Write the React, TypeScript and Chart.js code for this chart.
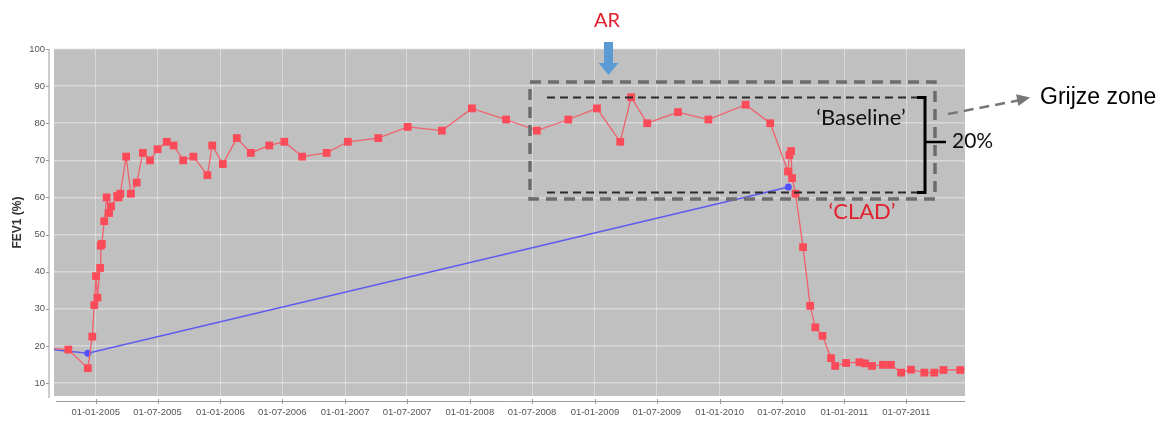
import React, { useEffect, useRef } from "react";
import { Chart, registerables } from "chart.js";

Chart.register(...registerables);

// ---- data ----
const redDates = [
  "2004-07-01", "2004-10-13", "2004-12-09", "2004-12-22", "2004-12-28", "2005-01-02", "2005-01-06",
  "2005-01-14", "2005-01-16", "2005-01-19", "2005-01-26", "2005-02-02", "2005-02-09", "2005-02-15",
  "2005-03-05", "2005-03-09", "2005-03-14", "2005-03-31", "2005-04-14", "2005-05-01", "2005-05-19",
  "2005-06-09", "2005-07-01", "2005-07-28", "2005-08-17", "2005-09-14", "2005-10-14", "2005-11-24",
  "2005-12-08", "2006-01-08", "2006-02-18", "2006-03-31", "2006-05-24", "2006-07-07", "2006-08-28",
  "2006-11-08", "2007-01-09", "2007-04-08", "2007-07-03", "2007-10-11", "2008-01-07", "2008-04-16",
  "2008-07-15", "2008-10-15", "2009-01-07", "2009-03-16", "2009-04-17", "2009-06-03", "2009-09-01",
  "2009-11-29", "2010-03-18", "2010-05-29", "2010-07-20", "2010-07-24", "2010-07-29", "2010-08-01",
  "2010-08-11", "2010-09-02", "2010-09-23", "2010-10-08", "2010-10-29", "2010-11-23", "2010-12-05",
  "2011-01-06", "2011-02-14", "2011-03-02", "2011-03-23", "2011-04-24", "2011-05-17", "2011-06-16",
  "2011-07-15", "2011-08-23", "2011-09-21", "2011-10-18", "2011-12-06", "2012-01-10",
];
const redValues = [
  19.6, 19, 14, 22.5, 31, 38.8, 33,
  41, 47, 47.5, 53.6, 60, 55.8, 57.6,
  60.4, 60, 61, 71, 61, 64, 72,
  70, 73, 75, 74, 70, 71, 66,
  74, 69, 76, 72, 74, 75, 71,
  72, 75, 76, 79, 78, 84, 81,
  78, 81, 84, 75, 87, 80, 83,
  81, 85, 80, 67, 71.4, 72.5, 65.2,
  61, 46.6, 30.8, 25, 22.7, 16.7, 14.6,
  15.4, 15.6, 15.3, 14.6, 14.9, 14.9, 12.8,
  13.6, 12.8, 12.8, 13.5, 13.5, 14,
];
const blueDates = ["2004-07-01", "2004-12-09", "2010-07-21"];
const blueValues = [19.6, 18, 62.8];

const xTickDates = [
  "2005-01-01", "2005-07-01", "2006-01-01", "2006-07-01", "2007-01-01", "2007-07-01", "2008-01-01",
  "2008-07-01", "2009-01-01", "2009-07-01", "2010-01-01", "2010-07-01", "2011-01-01", "2011-07-01",
];
const yTickValues = [10, 20, 30, 40, 50, 60, 70, 80, 90, 100];
const xMinDate = "2004-09-01";
const xMaxDate = "2011-12-20";
const yMin = 6.5;
const yMax = 100;

const t = (s: string) => Date.UTC(+s.slice(0, 4), +s.slice(5, 7) - 1, +s.slice(8, 10));
const pad2 = (n: number) => (n < 10 ? "0" + n : "" + n);
const fmt = (v: number) => {
  const d = new Date(v);
  return `${pad2(d.getUTCDate())}-${pad2(d.getUTCMonth() + 1)}-${d.getUTCFullYear()}`;
};

const decorPlugin = {
  id: "decor",
  beforeDraw(chart: any) {
    const { ctx, chartArea } = chart;
    ctx.save();
    ctx.fillStyle = "#c0c0c0";
    ctx.fillRect(chartArea.left, chartArea.top, chartArea.right - chartArea.left, chartArea.bottom - chartArea.top);
    ctx.restore();
  },
  afterDraw(chart: any) {
    const { ctx, chartArea } = chart;
    const xs = chart.scales.x;
    const ys = chart.scales.y;
    ctx.save();
    // custom axis lines
    ctx.strokeStyle = "#9a9a9a";
    ctx.lineWidth = 1;
    ctx.beginPath();
    ctx.moveTo(chartArea.left - 5, chartArea.top);
    ctx.lineTo(chartArea.left - 5, chartArea.bottom + 2);
    ctx.stroke();
    yTickValues.forEach((v) => {
      const y = Math.round(ys.getPixelForValue(v)) + 0.5;
      ctx.beginPath();
      ctx.moveTo(chartArea.left - 8, y);
      ctx.lineTo(chartArea.left - 5, y);
      ctx.stroke();
    });
    ctx.beginPath();
    ctx.moveTo(chartArea.left + 2, chartArea.bottom + 5.5);
    ctx.lineTo(chartArea.right, chartArea.bottom + 5.5);
    ctx.stroke();
    xTickDates.forEach((d) => {
      const x = Math.round(xs.getPixelForValue(t(d))) + 0.5;
      ctx.beginPath();
      ctx.moveTo(x, chartArea.bottom + 3);
      ctx.lineTo(x, chartArea.bottom + 8);
      ctx.stroke();
    });
    // y title
    ctx.save();
    ctx.translate(18, (chartArea.top + chartArea.bottom) / 2);
    ctx.rotate(-Math.PI / 2);
    ctx.fillStyle = "#333";
    ctx.font = "bold 12px 'Liberation Sans', Arial, sans-serif";
    ctx.textAlign = "center";
    ctx.textBaseline = "middle";
    ctx.fillText("FEV1 (%)", 0, 0);
    ctx.restore();

    // grey zone outer dashed box
    ctx.setLineDash([11, 7]);
    ctx.strokeStyle = "#6c6c6c";
    ctx.lineWidth = 3.5;
    ctx.strokeRect(530, 82, 405, 117);

    // baseline dashed lines
    ctx.setLineDash([8, 5]);
    ctx.strokeStyle = "#2b2b2b";
    ctx.lineWidth = 2;
    ctx.beginPath();
    ctx.moveTo(547, 97.5);
    ctx.lineTo(922, 97.5);
    ctx.moveTo(547, 192.5);
    ctx.lineTo(922, 192.5);
    ctx.stroke();

    // bracket
    ctx.setLineDash([]);
    ctx.strokeStyle = "#000";
    ctx.lineWidth = 3;
    ctx.beginPath();
    ctx.moveTo(917, 97.5);
    ctx.lineTo(925, 97.5);
    ctx.lineTo(925, 192.5);
    ctx.lineTo(917, 192.5);
    ctx.stroke();
    ctx.lineWidth = 2.5;
    ctx.beginPath();
    ctx.moveTo(925, 142);
    ctx.lineTo(946, 142);
    ctx.stroke();

    // texts
    ctx.textBaseline = "middle";
    ctx.textAlign = "center";
    ctx.fillStyle = "#111";
    ctx.font = "22px Lato, 'Noto Sans', sans-serif";
    ctx.fillText("\u2018Baseline\u2019", 861, 118);
    ctx.fillStyle = "#e3202d";
    ctx.fillText("\u2018CLAD\u2019", 862, 212);
    ctx.font = "20px Lato, 'Noto Sans', sans-serif";
    ctx.fillText("AR", 607, 21);
    ctx.textAlign = "left";
    ctx.fillStyle = "#111";
    ctx.font = "21px Lato, 'Noto Sans', sans-serif";
    ctx.fillText("20%", 952, 141);

    // AR arrow
    ctx.fillStyle = "#5b9bd5";
    ctx.fillRect(604, 42, 9, 22);
    ctx.beginPath();
    ctx.moveTo(598.5, 63);
    ctx.lineTo(618.5, 63);
    ctx.lineTo(608.5, 75);
    ctx.closePath();
    ctx.fill();

    // grey dashed arrow
    ctx.strokeStyle = "#777";
    ctx.fillStyle = "#777";
    ctx.lineWidth = 2.5;
    ctx.setLineDash([10, 6]);
    ctx.beginPath();
    ctx.moveTo(948, 114);
    ctx.lineTo(1018, 100.5);
    ctx.stroke();
    ctx.setLineDash([]);
    ctx.beginPath();
    const tipX = 1030, tipY = 97.5;
    const ang = Math.atan2(tipY - 114, tipX - 948);
    ctx.moveTo(tipX, tipY);
    ctx.lineTo(tipX - 13 * Math.cos(ang) + 6 * Math.sin(ang), tipY - 13 * Math.sin(ang) - 6 * Math.cos(ang));
    ctx.lineTo(tipX - 13 * Math.cos(ang) - 6 * Math.sin(ang), tipY - 13 * Math.sin(ang) + 6 * Math.cos(ang));
    ctx.closePath();
    ctx.fill();

    ctx.fillStyle = "#000";
    ctx.font = "23px 'Liberation Sans', Arial, sans-serif";
    ctx.textAlign = "left";
    ctx.fillText("Grijze zone", 1040, 98);
    ctx.restore();
  },
};

export default function App() {
  const ref = useRef<HTMLCanvasElement>(null);
  useEffect(() => {
    if (!ref.current) return;
    const chart = new Chart(ref.current, {
      type: "line",
      data: {
        datasets: [
          {
            label: "FEV1",
            data: redDates.map((d, i) => ({ x: t(d), y: redValues[i] })),
            borderColor: "#f0606c",
            borderWidth: 1.3,
            backgroundColor: "#fb4a58",
            pointBackgroundColor: "#fb4a58",
            pointBorderColor: "#fb4a58",
            pointStyle: "rect",
            pointRadius: 5.5,
            pointBorderWidth: 0,
            tension: 0,
          },
          {
            label: "trend",
            data: blueDates.map((d, i) => ({ x: t(d), y: blueValues[i] })),
            borderColor: "#5c5cf0",
            borderWidth: 1.5,
            pointBackgroundColor: "#5050ff",
            pointBorderColor: "#5050ff",
            pointRadius: 3.5,
            pointBorderWidth: 0,
            tension: 0,
          },
        ],
      },
      options: {
        animation: false,
        responsive: false,
        events: [],
        layout: { padding: { left: 0, top: 49, right: 209, bottom: 0 } },
        plugins: { legend: { display: false }, tooltip: { enabled: false }, title: { display: false } },
        scales: {
          x: {
            type: "linear",
            min: t(xMinDate),
            max: t(xMaxDate),
            afterBuildTicks: (s: any) => {
              s.ticks = xTickDates.map((d) => ({ value: t(d) }));
            },
            afterFit: (s: any) => {
              s.height = 25;
            },
            ticks: {
              autoSkip: false,
              maxRotation: 0,
              minRotation: 0,
              padding: 11,
              color: "#555",
              font: { size: 9.5, family: "'Liberation Sans', Arial, sans-serif" },
              callback: (v: any) => fmt(Number(v)),
            },
            grid: { color: "rgba(235,235,235,0.55)", lineWidth: 1, drawTicks: false },
            border: { display: false },
          },
          y: {
            type: "linear",
            min: yMin,
            max: yMax,
            afterBuildTicks: (s: any) => {
              s.ticks = yTickValues.map((v) => ({ value: v }));
            },
            afterFit: (s: any) => {
              s.width = 54;
            },
            ticks: {
              padding: 9,
              color: "#555",
              font: { size: 9.5, family: "'Liberation Sans', Arial, sans-serif" },
            },
            grid: { color: "rgba(235,235,235,0.55)", lineWidth: 1.5, drawTicks: false },
            border: { display: false },
          },
        },
      },
      plugins: [decorPlugin],
    } as any);
    return () => chart.destroy();
  }, []);
  return (
    <div style={{ position: "fixed", left: 0, top: 0, width: 1174, height: 421, background: "#fff" }}>
      <canvas ref={ref} width={1174} height={421} />
    </div>
  );
}
